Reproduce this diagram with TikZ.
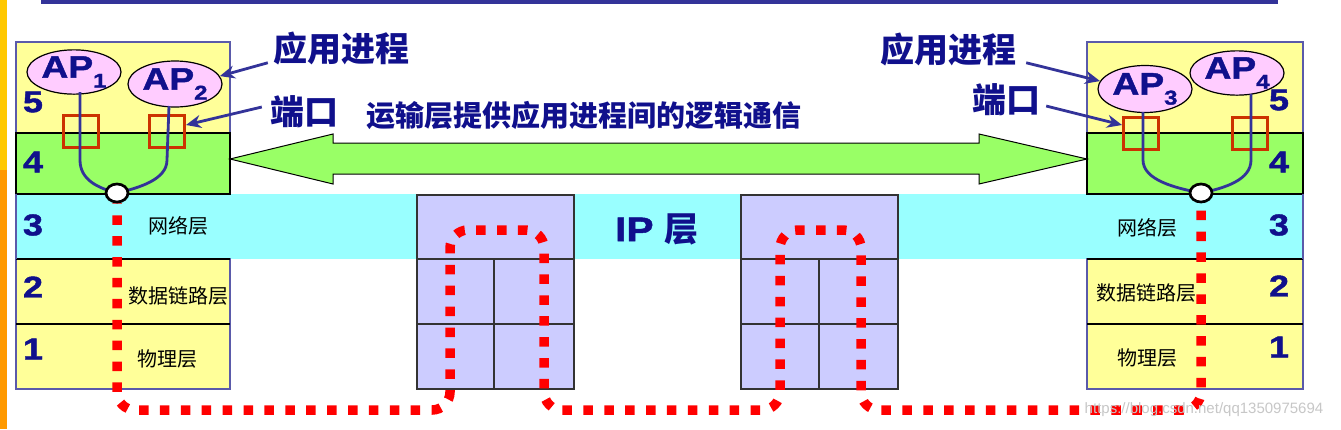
\documentclass[tikz,border=0pt]{standalone}
\usepackage{fontspec}
\setmainfont{Liberation Sans}
\newfontfamily\cjk{Noto Sans CJK SC}
\newfontfamily\wide[FakeStretch=1.2,FakeBold=1.5]{Liberation Sans}
\usetikzlibrary{shapes.geometric,arrows.meta}
\definecolor{navy}{RGB}{16,16,140}
\definecolor{lyellow}{RGB}{255,255,153}
\definecolor{lgreen}{RGB}{153,255,102}
\definecolor{lcyan}{RGB}{153,255,255}
\definecolor{lav}{RGB}{204,204,255}
\definecolor{appink}{RGB}{255,204,255}
\definecolor{portred}{RGB}{204,51,0}
\definecolor{lineblue}{RGB}{51,51,153}
\definecolor{stackedge}{RGB}{90,90,170}
\definecolor{baryellow}{RGB}{255,200,0}
\definecolor{barorange}{RGB}{255,153,0}
\definecolor{topblue}{RGB}{51,51,153}
\tikzset{
  apell/.style={ellipse, draw=black, line width=1.2pt, fill=appink, minimum width=94pt, minimum height=#1, inner sep=0pt, text=navy, font=\wide\bfseries\fontsize{31}{31}\selectfont},
  apell/.default=44pt,
  portbox/.style={draw=portred, line width=3pt, minimum width=35pt, minimum height=32pt, inner sep=0pt},
  sockcirc/.style={ellipse, draw=black, line width=2.7pt, fill=white, minimum width=22pt, minimum height=18pt, inner sep=0pt},
  apline/.style={draw=lineblue, line width=2.8pt},
  lblarrow/.style={draw=lineblue, line width=2.8pt, -{Stealth[length=15pt,width=13pt]}},
  bignum/.style={text=navy, font=\wide\bfseries\fontsize{30}{30}\selectfont, inner sep=0pt},
  layername/.style={text=black, font=\cjk\fontsize{20}{20}\selectfont, inner sep=0pt},
  bluelabel/.style={text=navy, font=\cjk\bfseries\fontsize{34}{34}\selectfont, inner sep=0pt},
  routercell/.style={draw=black!80, line width=1.4pt, fill=lav},
  reddots/.style={draw=red, line width=9.5pt, dash pattern=on 9.5pt off 11.4pt, dash phase=9pt, rounded corners=18pt},
}
\begin{document}
\begin{tikzpicture}[x=1pt,y=-1pt]
\useasboundingbox (0,0) rectangle (1341,429);
\fill[white] (0,0) rectangle (1341,429);
% left decorative bar and top rule
\fill[baryellow] (0,0) rectangle (7,170);
\fill[barorange] (0,170) rectangle (7,429);
\fill[topblue] (41,0) rectangle (1278,4);
% IP layer band
\fill[lcyan] (230,194) rectangle (1087,259);
% host stacks
\foreach \a/\b in {16/230,1087/1303}{
  \fill[lyellow] (\a,42) rectangle (\b,133);
  \fill[lcyan] (\a,194) rectangle (\b,259);
  \fill[lyellow] (\a,259) rectangle (\b,389);
  \draw[stackedge, line width=1.3pt] (\a,42) rectangle (\b,133);
  \draw[stackedge, line width=1.3pt] (\a,259) rectangle (\b,389);
  \draw[black, line width=1.3pt] (\a,259) -- (\b,259) (\a,324) -- (\b,324);
  \draw[black, line width=2pt, fill=lgreen] (\a,133) rectangle (\b,194);
}
\draw[stackedge, line width=1.3pt] (16,194) -- (16,259) (1303,194) -- (1303,259);
% routers
\foreach \a/\m/\b in {417/494/574, 741/819/898}{
  \draw[routercell] (\a,195) rectangle (\b,259);
  \draw[routercell] (\a,259) rectangle (\m,324);
  \draw[routercell] (\m,259) rectangle (\b,324);
  \draw[routercell] (\a,324) rectangle (\m,389);
  \draw[routercell] (\m,324) rectangle (\b,389);
}
\node[text=navy, font=\wide\bfseries\fontsize{34}{34}\selectfont, inner sep=0pt] (iplabel) at (657,229) {IP {\cjk 层}};
% green double arrow
\draw[black, line width=1pt, fill=lgreen] (230,159) -- (333,134) -- (333,143) -- (979,143) -- (979,134) -- (1087,159) -- (979,184) -- (979,174) -- (333,174) -- (333,184) -- cycle;
\node[text=navy, font=\cjk\bfseries\fontsize{29}{29}\selectfont, inner sep=0pt] (title) at (584,115) {运输层提供应用进程间的逻辑通信};
% layer numbers
\node[bignum] (l5) at (33,102) {5};
\node[bignum] (l4) at (33,162) {4};
\node[bignum] (l3) at (33,225) {3};
\node[bignum] (l2) at (33,287) {2};
\node[bignum] (l1) at (33,349) {1};
\node[bignum] (r5) at (1279,100) {5};
\node[bignum] (r4) at (1279,162) {4};
\node[bignum] (r3) at (1279,225) {3};
\node[bignum] (r2) at (1279,286) {2};
\node[bignum] (r1) at (1279,347) {1};
% layer names
\node[layername] (ln3) at (178,226) {网络层};
\node[layername] (ln2) at (178,296) {数据链路层};
\node[layername] (ln1) at (167,359) {物理层};
\node[layername] (rn3) at (1147,228) {网络层};
\node[layername] (rn2) at (1146,293) {数据链路层};
\node[layername] (rn1) at (1147,358) {物理层};
% ports
\node[portbox] (p1) at (81,131) {};
\node[portbox] (p2) at (167,131) {};
\node[portbox] (p3) at (1141,133) {};
\node[portbox] (p4) at (1250,133) {};
% red dotted path
\node[sockcirc, draw=none, fill=none] (s1) at (117,193) {};
\node[sockcirc, draw=none, fill=none] (s2) at (1201,193) {};
\draw[reddots] (s1.south) -- (117,410) -- (450,410) -- (450,230) -- (544,230) -- (544,410) -- (780,410) -- (780,230) -- (861,230) -- (861,410) -- (1201,410) -- (s2.south);
% application processes
\node[apell=42pt] (ap1) at (74,72) {AP\raisebox{-10pt}{\fontsize{20}{20}\selectfont 1}};
\node[apell=46pt] (ap2) at (175,84) {AP\raisebox{-10pt}{\fontsize{20}{20}\selectfont 2}};
\node[apell=47pt] (ap3) at (1145,89) {AP\raisebox{-10pt}{\fontsize{20}{20}\selectfont 3}};
\node[apell=43pt] (ap4) at (1237,73) {AP\raisebox{-10pt}{\fontsize{20}{20}\selectfont 4}};
% process-to-socket lines
\draw[apline] (80,92) -- (80,160) .. controls (80,180) and (98,188) .. (s1.center);
\draw[apline] (169,106) -- (167,160) .. controls (167,180) and (138,188) .. (s1.center);
\draw[apline] (1143,112) -- (1143,160) .. controls (1143,180) and (1175,188) .. (s2.center);
\draw[apline] (1251,94) -- (1251,160) .. controls (1251,180) and (1225,188) .. (s2.center);
\node[sockcirc] (sock1) at (117,193) {};
\node[sockcirc] (sock2) at (1201,193) {};
% labels with arrows
\node[bluelabel] (lab1) at (341,49) {应用进程};
\node[bluelabel] (lab2) at (304,112) {端口};
\node[bluelabel] (lab3) at (948,50) {应用进程};
\node[bluelabel] (lab4) at (1006,100) {端口};
\draw[lblarrow] ([xshift=-5pt,yshift=3pt]lab1.south west) -- (ap2.10);
\draw[lblarrow] ([xshift=-8pt,yshift=5pt]lab2.west) -- ([yshift=6pt]p2.east);
\draw[lblarrow] ([xshift=10pt,yshift=4pt]lab3.south east) -- (ap3.170);
\draw[lblarrow] ([xshift=6pt,yshift=-6pt]lab4.east) -- ([yshift=8pt]p3.west);
% watermark
\node[text=black!22, font=\fontsize{15}{15}\selectfont, inner sep=0pt] (wm) at (1204,410) {https://blog.csdn.net/qq1350975694};
\end{tikzpicture}
\end{document}
